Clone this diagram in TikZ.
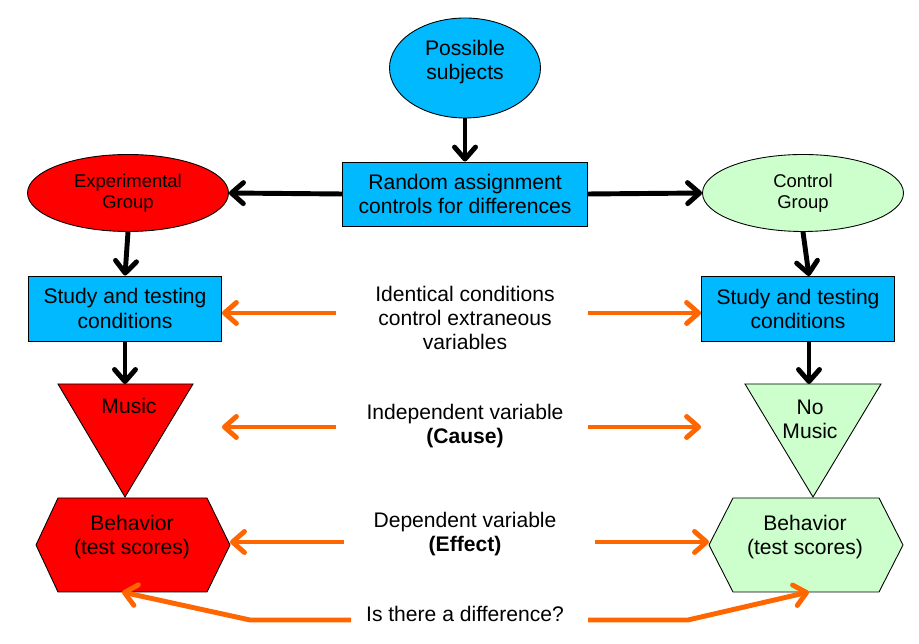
\documentclass[tikz,border=0pt]{standalone}
\usepackage{fontspec}
\setmainfont{Liberation Sans}
\definecolor{flowblue}{RGB}{0,185,255}
\definecolor{flowred}{RGB}{255,0,0}
\definecolor{flowgreen}{RGB}{204,255,204}
\definecolor{floworange}{RGB}{255,102,0}
\usetikzlibrary{arrows.meta,positioning,shapes.geometric,calc}

\tikzset{
  bigfont/.style={font=\fontsize{12}{13.8}\selectfont, align=center},
  smallfont/.style={font=\fontsize{10.5}{12}\selectfont, align=center},
  outline/.style={draw=black, line width=0.5pt},
  grpellipse/.style={ellipse, outline, minimum width=4.02cm, minimum height=1.54cm, smallfont},
  studybox/.style={rectangle, outline, fill=flowblue, minimum width=3.86cm, minimum height=1.30cm, bigfont},
  blackarrow/.style={line width=2.8pt, -{Straight Barb[length=0.24cm,width=0.42cm,round]}},
  orangearrow/.style={line width=2.8pt, draw=floworange, -{Straight Barb[length=0.24cm,width=0.42cm,round]}}
}

\begin{document}
\begin{tikzpicture}
  \useasboundingbox (0,0) rectangle (18.38,12.88);

  %% Top of the chart
  \node[ellipse, outline, fill=flowblue, minimum width=3.02cm, minimum height=2.0cm] (subj) at (9.30,11.52) {};
  \node[bigfont] (subjtext) at (9.30,11.64) {Possible\\subjects};
  \node[rectangle, outline, fill=flowblue, minimum width=4.9cm, minimum height=1.28cm, bigfont] (assign) at (9.30,9.00) {Random assignment\\controls for differences};

  %% Groups
  \node[grpellipse, fill=flowred]   (expgrp)  at (2.56,9.02)  {Experimental\\Group};
  \node[grpellipse, fill=flowgreen] (ctrlgrp) at (16.06,9.02) {Control\\Group};

  %% Study and testing conditions
  \node[studybox] (expstudy)  at (2.50,6.71)  {Study and testing\\conditions};
  \node[studybox] (ctrlstudy) at (15.96,6.70) {Study and testing\\conditions};

  %% Treatment triangles
  \draw[outline, fill=flowred]   (1.16,5.20) -- (3.86,5.20) -- (2.50,2.94) -- cycle;
  \draw[outline, fill=flowgreen] (14.90,5.20) -- (17.62,5.20) -- (16.26,2.94) -- cycle;
  \coordinate (exptop)  at (2.50,5.20);
  \coordinate (ctrltop) at (16.18,5.20);
  \node[bigfont] (music)   at (2.58,4.76)  {Music};
  \node[bigfont] (nomusic) at (16.20,4.50) {No\\Music};

  %% Behaviour hexagons
  \draw[outline, fill=flowred]   (0.72,1.98) -- (1.16,2.92) -- (4.14,2.92) -- (4.60,1.98) -- (4.14,1.04) -- (1.16,1.04) -- cycle;
  \draw[outline, fill=flowgreen] (14.18,1.98) -- (14.66,2.92) -- (17.58,2.92) -- (18.06,1.98) -- (17.58,1.04) -- (14.66,1.04) -- cycle;
  \coordinate (expright)  at (4.60,1.98);
  \coordinate (ctrlleft)  at (14.18,1.98);
  \coordinate (expbottom) at (2.44,1.04);
  \coordinate (ctrlbottom) at (16.18,1.04);
  \node[bigfont] (expbeh)  at (2.64,2.14)  {Behavior\\(test scores)};
  \node[bigfont] (ctrlbeh) at (16.10,2.14) {Behavior\\(test scores)};

  %% Middle labels
  \node[bigfont] (identical) at (9.30,6.52) {Identical conditions\\control extraneous\\variables};
  \node[bigfont] (indep)     at (9.30,4.36) {Independent variable\\\textbf{(Cause)}};
  \node[bigfont] (dep)       at (9.30,2.20) {Dependent variable\\\textbf{(Effect)}};
  \node[bigfont] (diff)      at (9.30,0.60) {Is there a difference?};

  %% Black flow arrows
  \draw[blackarrow] (subj.south) -- (assign.north);
  \draw[blackarrow] (assign.west) -- (expgrp.east);
  \draw[blackarrow] (assign.east) -- (ctrlgrp.west);
  \draw[blackarrow] (expgrp.south) -- (expstudy.north);
  \draw[blackarrow] (ctrlgrp.south) -- (ctrltop |- ctrlstudy.north);
  \draw[blackarrow] (exptop |- expstudy.south) -- (exptop);
  \draw[blackarrow] (ctrltop |- ctrlstudy.south) -- (ctrltop);

  %% Orange comparison arrows
  \coordinate (idL) at (6.72,6.62);   \coordinate (idR) at (11.76,6.62);
  \coordinate (inL) at (6.72,4.34);   \coordinate (inR) at (11.76,4.34);
  \coordinate (deL) at (6.88,2.04);   \coordinate (deR) at (11.90,2.04);
  \coordinate (diL) at (7.02,0.48);   \coordinate (diR) at (11.76,0.48);
  \draw[orangearrow] (idL) -- (idL -| expstudy.east);
  \draw[orangearrow] (idR) -- (idR -| ctrlstudy.west);
  \draw[orangearrow] (inL) -- (inL -| expstudy.east);
  \draw[orangearrow] (inR) -- (inR -| ctrlstudy.west);
  \draw[orangearrow] (deL) -- (deL -| expright);
  \draw[orangearrow] (deR) -- (deR -| ctrlleft);
  \draw[orangearrow] (diL) -- (5.00,0.48) -- (expbottom);
  \draw[orangearrow] (diR) -- (13.76,0.48) -- (ctrlbottom);
\end{tikzpicture}
\end{document}
